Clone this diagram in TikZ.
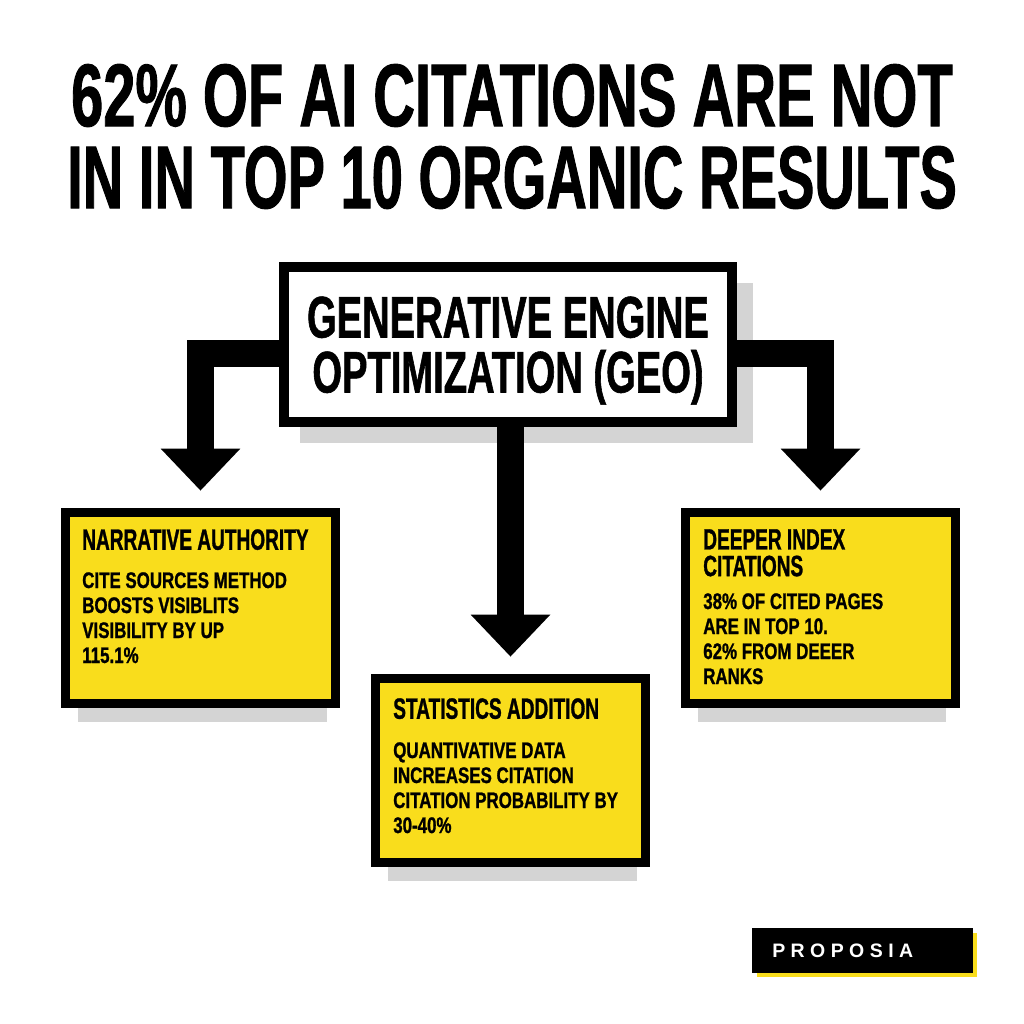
\documentclass[tikz,border=0pt]{standalone}
\usepackage{fontspec}
\usetikzlibrary{arrows.meta}
\newfontfamily\condfont{Liberation Sans Bold}[FakeStretch=0.65,FakeBold=1]
\newfontfamily\bodyfont{Liberation Sans Bold}[FakeStretch=0.75,FakeBold=1]
\newfontfamily\brandfont{Liberation Sans Bold}[LetterSpace=28]
\definecolor{signyellow}{RGB}{249,221,28}
\definecolor{shadowgray}{RGB}{212,212,212}
\tikzset{
  card/.style={draw=black, line width=6.75pt, fill=signyellow,
    minimum width=202.5pt, minimum height=143.25pt, inner sep=0pt},
  cardhead/.style={anchor=north west, inner sep=0pt, align=left,
    font=\condfont\fontsize{22}{20}\selectfont},
  cardbody/.style={anchor=north west, inner sep=0pt, align=left,
    font=\bodyfont\fontsize{16.9}{18.75}\selectfont},
  link/.style={line width=20pt, -{Triangle[width=57.75pt,length=31.5pt]}}
}
\begin{document}
\begin{tikzpicture}[x=0.75pt, y=-0.75pt]
  \fill[white] (0,0) rectangle (1024,1024);
  \useasboundingbox (0,0) rectangle (1024,1024);
  % headline
  \node[inner sep=0pt, align=center, font=\condfont\fontsize{66.75}{61.5}\selectfont]
    (title) at (512,136.5) {62\% OF AI CITATIONS ARE NOT\\\scalebox{0.97}[1]{IN IN TOP 10 ORGANIC RESULTS}};
  % shadows
  \fill[shadowgray] (300,283) rectangle (753,443);
  \fill[shadowgray] (78,690) rectangle (327,722);
  \fill[shadowgray] (388,850) rectangle (637,881);
  \fill[shadowgray] (698,690) rectangle (946,722);
  % boxes
  \node[draw=black, line width=7.5pt, fill=white, minimum width=336pt,
    minimum height=116.25pt, inner sep=0pt, align=center, text depth=0pt,
    font=\condfont\fontsize{44}{41.25}\selectfont]
    (geo) at (508,344.5) {GENERATIVE ENGINE\\OPTIMIZATION (GEO)};
  \node[card] (narr) at (200.5,608) {};
  \node[card, minimum height=138pt] (stat) at (510.5,770.5) {};
  \node[card] (deep) at (820.5,608) {};
  % texts
  \node[cardhead] (narrh) at (82,529) {NARRATIVE AUTHORITY};
  \node[cardbody] (narrb) at (82,572) {CITE SOURCES METHOD\\BOOSTS VISIBLITS\\VISIBILITY BY UP\\115.1\%};
  \node[cardhead] (stath) at (393,698) {STATISTICS ADDITION};
  \node[cardbody] (statb) at (393,742) {QUANTIVATIVE DATA\\INCREASES CITATION\\CITATION PROBABILITY BY\\30-40\%};
  \node[cardhead] (deeph) at (703,529) {DEEPER INDEX\\CITATIONS};
  \node[cardbody] (deepb) at (703,593) {38\% OF CITED PAGES\\ARE IN TOP 10.\\62\% FROM DEEER\\RANKS};
  % arrows
  \draw[link] ([yshift=-6.75pt]geo.west) -| ([yshift=13pt]narr.north);
  \draw[link] ([yshift=-6.75pt]geo.east) -| ([yshift=13pt]deep.north);
  \draw[link] (stat.north |- geo.south) -- ([yshift=13pt]stat.north);
  % brand
  \fill[signyellow] (757,933) rectangle (977,977);
  \fill[black] (752,928) rectangle (973,973);
  \node[anchor=west, inner sep=0pt, text=white, font=\brandfont\fontsize{14.6}{16}\selectfont]
    (brand) at (772,950.5) {PROPOSIA};
\end{tikzpicture}
\end{document}
